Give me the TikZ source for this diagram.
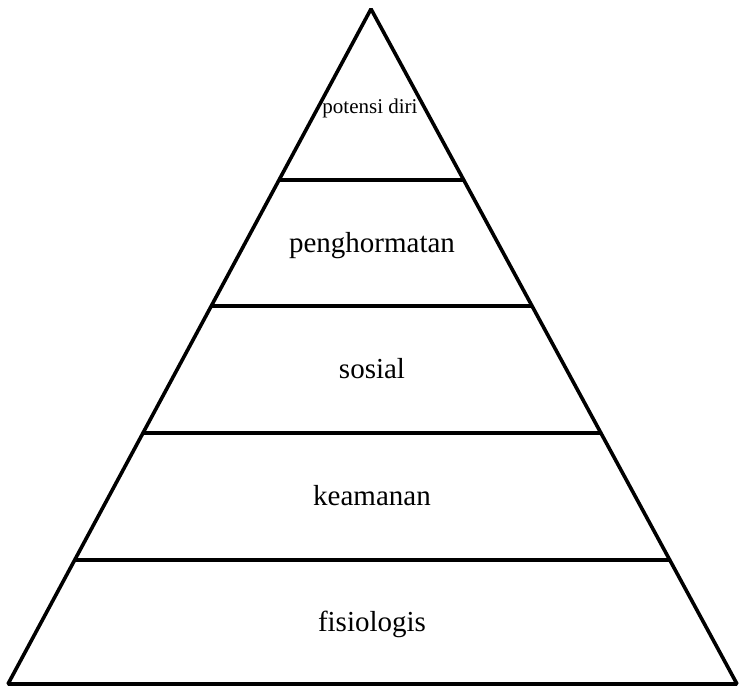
\documentclass[tikz,border=0pt]{standalone}
\usepackage{fontspec}
\setmainfont{Liberation Serif}
\usetikzlibrary{ calc,        % For points along the pyramid sides
                 positioning, % For easy node-relative placements
               }
\tikzstyle{side} = [line width=3.6pt, line join=bevel]
\tikzstyle{level} = [line width=3.6pt]
\tikzstyle{tier} = [anchor=base, inner sep=0pt, font=\fontsize{29}{33}\selectfont]
\tikzstyle{tier_small} = [anchor=base, inner sep=0pt, font=\fontsize{21}{25}\selectfont]

\begin{document}
\begin{tikzpicture}[x=1pt, y=-1pt]
  \useasboundingbox (0, 0) rectangle (741, 687);
  \coordinate (top) at (371, 9);
  \coordinate (bl) at (8, 684);
  \coordinate (br) at (737, 684);
  \draw [side] (bl) -- (top) -- (br) -- cycle;

  % the four floors of the pyramid
  \foreach \name/\t in {l1/0.1837, l2/0.3719, l3/0.5600, l4/0.7467} {
    \coordinate (\name w) at ($(bl)!\t!(top)$);
    \coordinate (\name e) at ($(br)!\t!(top)$);
    \draw [level] (\name w) -- (\name e);
  }

  \node (fis) [tier] at (372, 631) {fisiologis};
  \node (aman) [tier] at (372, 505) {keamanan};
  \node (sos) [tier] at (372, 378) {sosial};
  \node (hormat) [tier] at (372, 252) {penghormatan};
  \node (diri) [tier_small] at (370, 114) {potensi diri};
\end{tikzpicture}
\end{document}
